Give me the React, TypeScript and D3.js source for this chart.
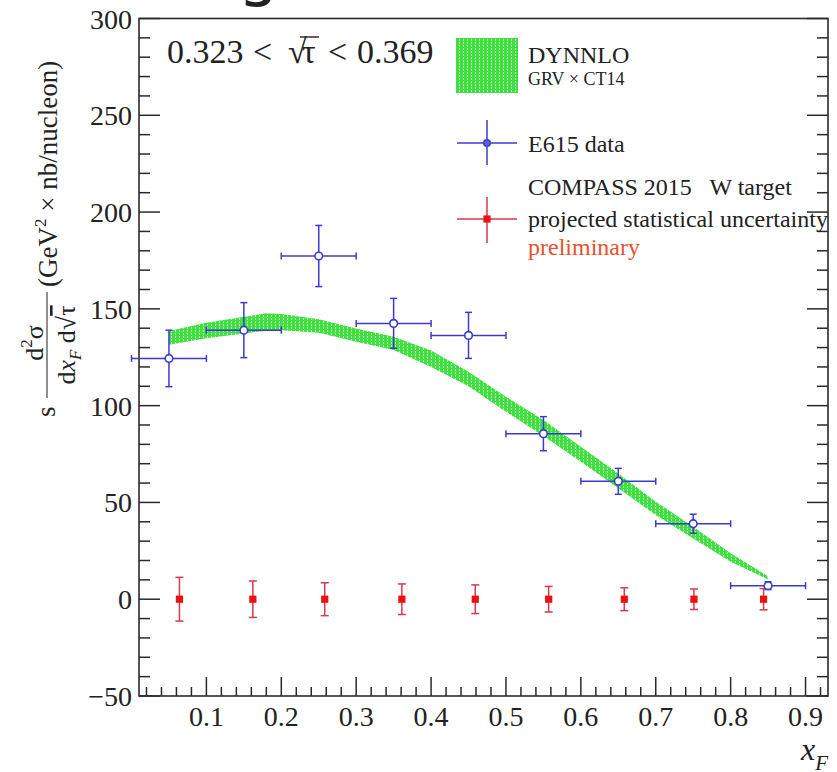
import React from "react";
import * as d3 from "d3";

// ---- data ----
const e615X = [0.05, 0.15, 0.25, 0.35, 0.45, 0.55, 0.65, 0.75, 0.85];
const e615Y = [124.4, 139.0, 177.3, 142.5, 136.3, 85.5, 60.9, 39.0, 7.0];
const e615YErr = [14.6, 14.2, 15.8, 12.9, 11.9, 8.8, 6.7, 4.9, 2.0];
const e615XErr = [0.05, 0.05, 0.05, 0.05, 0.05, 0.05, 0.05, 0.05, 0.05];

const compassX = [0.064, 0.162, 0.258, 0.361, 0.459, 0.557, 0.658, 0.751, 0.844];
const compassY = [0, 0, 0, 0, 0, 0, 0, 0, 0];
const compassErr = [11.3, 9.4, 8.5, 7.9, 7.4, 6.6, 5.9, 5.3, 5.5];

const bandX = [0.05, 0.1, 0.15, 0.18, 0.2, 0.25, 0.3, 0.35, 0.4, 0.45, 0.5, 0.55, 0.6, 0.65, 0.7, 0.75, 0.8, 0.85];
const bandHi = [138.5, 142.8, 145.9, 147.7, 147.3, 144.6, 139.9, 135.6, 128.5, 117.5, 104.6, 92.6, 78.8, 65.0, 50.4, 37.5, 23.7, 11.8];
const bandLo = [131.5, 134.8, 137.3, 138.7, 139.0, 137.7, 133.0, 128.7, 120.0, 110.0, 96.9, 84.3, 71.0, 57.3, 43.5, 31.4, 19.4, 10.2];

const xMajor = [0.1, 0.2, 0.3, 0.4, 0.5, 0.6, 0.7, 0.8, 0.9];
const yMajor = [-50, 0, 50, 100, 150, 200, 250, 300];

const W = 837;
const H = 772;
const FONT = "'Liberation Serif', 'Times New Roman', serif";

export default function App() {
  const x = d3.scaleLinear().domain([0.01, 0.93]).range([139, 828]);
  const y = d3.scaleLinear().domain([-50, 300]).range([696, 18.5]);

  const xMinor = d3.range(0.02, 0.93, 0.02).filter((v) => Math.abs(v * 10 - Math.round(v * 10)) > 1e-6);
  const yMinor = d3.range(-50, 301, 10).filter((v) => v % 50 !== 0);

  const bandData = bandX.map((v, i) => ({ x: v, hi: bandHi[i], lo: bandLo[i] }));
  const area = d3
    .area<{ x: number; hi: number; lo: number }>()
    .x((d) => x(d.x))
    .y0((d) => y(d.lo))
    .y1((d) => y(d.hi));

  const blue = "#3b3bcf";
  const redLine = "#d6384c";
  const red = "#ee1010";
  const axisC = "#2a2a2a";
  const capB = 3.5;
  const capR = 4;

  const fmtY = (v: number) => (v < 0 ? "\u2212" + Math.abs(v) : String(v));

  return (
    <svg width={W} height={H} style={{ position: "absolute", left: 0, top: 0, background: "#fff" }} fontFamily={FONT}>
      <defs>
        <pattern id="hatch" width="4" height="3" patternUnits="userSpaceOnUse">
          <rect width="4" height="3" fill="#3fe03f" />
          <rect x="3" y="0" width="1" height="2" fill="#b6f3b6" />
        </pattern>
      </defs>

      {/* cropped heading fragment */}
      <text x={238} y={-6} fontSize={64} fontFamily="'DejaVu Sans', sans-serif" fill="#222">g</text>

      {/* band */}
      <path d={area(bandData) || ""} fill="url(#hatch)" stroke="none" />

      {/* frame */}
      <rect x={x(0.01)} y={y(300)} width={x(0.93) - x(0.01)} height={y(-50) - y(300)} fill="none" stroke={axisC} strokeWidth={1.6} />

      {/* y ticks (left and right) */}
      {yMajor.map((v) => (
        <g key={"ym" + v}>
          <line x1={x(0.01)} x2={x(0.01) + 21} y1={y(v)} y2={y(v)} stroke={axisC} strokeWidth={1.5} />
          <line x1={x(0.93)} x2={x(0.93) - 21} y1={y(v)} y2={y(v)} stroke={axisC} strokeWidth={1.5} />
          <text x={132} y={y(v) + 10} fontSize={28} textAnchor="end" fill="#222">{fmtY(v)}</text>
        </g>
      ))}
      {yMinor.map((v) => (
        <g key={"yn" + v}>
          <line x1={x(0.01)} x2={x(0.01) + 11} y1={y(v)} y2={y(v)} stroke={axisC} strokeWidth={1.5} />
          <line x1={x(0.93)} x2={x(0.93) - 11} y1={y(v)} y2={y(v)} stroke={axisC} strokeWidth={1.5} />
        </g>
      ))}

      {/* x ticks */}
      {xMajor.map((v) => (
        <g key={"xm" + v}>
          <line x1={x(v)} x2={x(v)} y1={y(-50)} y2={y(-50) - 19} stroke={axisC} strokeWidth={1.5} />
          <text x={x(v)} y={726} fontSize={28} textAnchor="middle" fill="#222">{v.toFixed(1)}</text>
        </g>
      ))}
      {xMinor.map((v) => (
        <line key={"xn" + v} x1={x(v)} x2={x(v)} y1={y(-50)} y2={y(-50) - 9} stroke={axisC} strokeWidth={1.5} />
      ))}

      {/* x axis title */}
      <text x={801} y={760} fontSize={32} fontStyle="italic" fill="#222">
        x
        <tspan fontSize={21} dy={10}>F</tspan>
      </text>

      {/* y axis title */}
      <g transform="rotate(-90)" fill="#222">
        <text x={-417} y={55} fontSize={27}>s</text>
        <line x1={-398} x2={-292} y1={47} y2={47} stroke="#444" strokeWidth={1.2} />
        <text x={-343} y={43} fontSize={26} textAnchor="middle">
          d<tspan fontSize={17} dy={-11}>2</tspan><tspan dy={11}>σ</tspan>
        </text>
        <text x={-345} y={75} fontSize={26} textAnchor="middle">
          d<tspan fontStyle="italic">x</tspan><tspan fontSize={17} dy={6} fontStyle="italic">F</tspan>
          <tspan dy={-6}> d√</tspan><tspan textDecoration="overline">τ</tspan>
        </text>
        <text x={-287} y={57} fontSize={27}>
          (GeV<tspan fontSize={17} dy={-11}>2</tspan><tspan dy={11}> × nb/nucleon)</tspan>
        </text>
      </g>

      {/* COMPASS projected */}
      {compassX.map((v, i) => (
        <g key={"c" + i}>
          <line x1={x(v)} x2={x(v)} y1={y(compassY[i] - compassErr[i])} y2={y(compassY[i] + compassErr[i])} stroke={redLine} strokeWidth={1.5} />
          <line x1={x(v) - capR} x2={x(v) + capR} y1={y(compassY[i] + compassErr[i])} y2={y(compassY[i] + compassErr[i])} stroke={redLine} strokeWidth={1.5} />
          <line x1={x(v) - capR} x2={x(v) + capR} y1={y(compassY[i] - compassErr[i])} y2={y(compassY[i] - compassErr[i])} stroke={redLine} strokeWidth={1.5} />
          <rect x={x(v) - 3.6} y={y(compassY[i]) - 3.6} width={7.2} height={7.2} fill={red} />
        </g>
      ))}

      {/* E615 data */}
      {e615X.map((v, i) => {
        const cx = x(v);
        const cy = y(e615Y[i]);
        const x0 = x(v - e615XErr[i]);
        const x1 = x(v + e615XErr[i]);
        const yt = y(e615Y[i] + e615YErr[i]);
        const yb = y(e615Y[i] - e615YErr[i]);
        return (
          <g key={"e" + i} stroke={blue} strokeWidth={1.5}>
            <line x1={x0} x2={x1} y1={cy} y2={cy} />
            <line x1={x0} x2={x0} y1={cy - capB} y2={cy + capB} />
            <line x1={x1} x2={x1} y1={cy - capB} y2={cy + capB} />
            <line x1={cx} x2={cx} y1={yt} y2={yb} />
            <line x1={cx - capB} x2={cx + capB} y1={yt} y2={yt} />
            <line x1={cx - capB} x2={cx + capB} y1={yb} y2={yb} />
            <circle cx={cx} cy={cy} r={3.8} fill="#fff" strokeWidth={1.6} />
          </g>
        );
      })}

      {/* range annotation */}
      <g fontSize={34} fill="#222">
        <text x={167} y={63}>0.323</text>
        <text x={253} y={63}>&lt;</text>
        <text x={288} y={63}>√</text>
        <text x={302} y={63}>τ</text>
        <line x1={300} x2={319} y1={37} y2={37} stroke="#222" strokeWidth={1.4} />
        <text x={328} y={63}>&lt;</text>
        <text x={357} y={63}>0.369</text>
      </g>

      {/* legend */}
      <rect x={456} y={38} width={62} height={55} fill="url(#hatch)" />
      <text x={528} y={63} fontSize={24} fill="#222">DYNNLO</text>
      <text x={528} y={85} fontSize={18} fill="#222">GRV × CT14</text>

      <g stroke={blue} strokeWidth={1.5}>
        <line x1={457} x2={517} y1={143} y2={143} />
        <line x1={487} x2={487} y1={120} y2={165} />
        <circle cx={487} cy={143} r={3.3} fill="#6060dd" />
      </g>
      <text x={528} y={152} fontSize={24} fill="#222">E615 data</text>

      <g stroke={redLine} strokeWidth={1.5}>
        <line x1={457} x2={517} y1={219} y2={219} />
        <line x1={487} x2={487} y1={197} y2={243} />
      </g>
      <rect x={483.4} y={215.4} width={7.2} height={7.2} fill={red} />
      <text x={528} y={195} fontSize={24} fill="#222" xmlSpace="preserve">COMPASS 2015   W target</text>
      <text x={528} y={227} fontSize={24} fill="#222">projected statistical uncertainty</text>
      <text x={528} y={255} fontSize={24} fill="#e8502e">preliminary</text>
    </svg>
  );
}
